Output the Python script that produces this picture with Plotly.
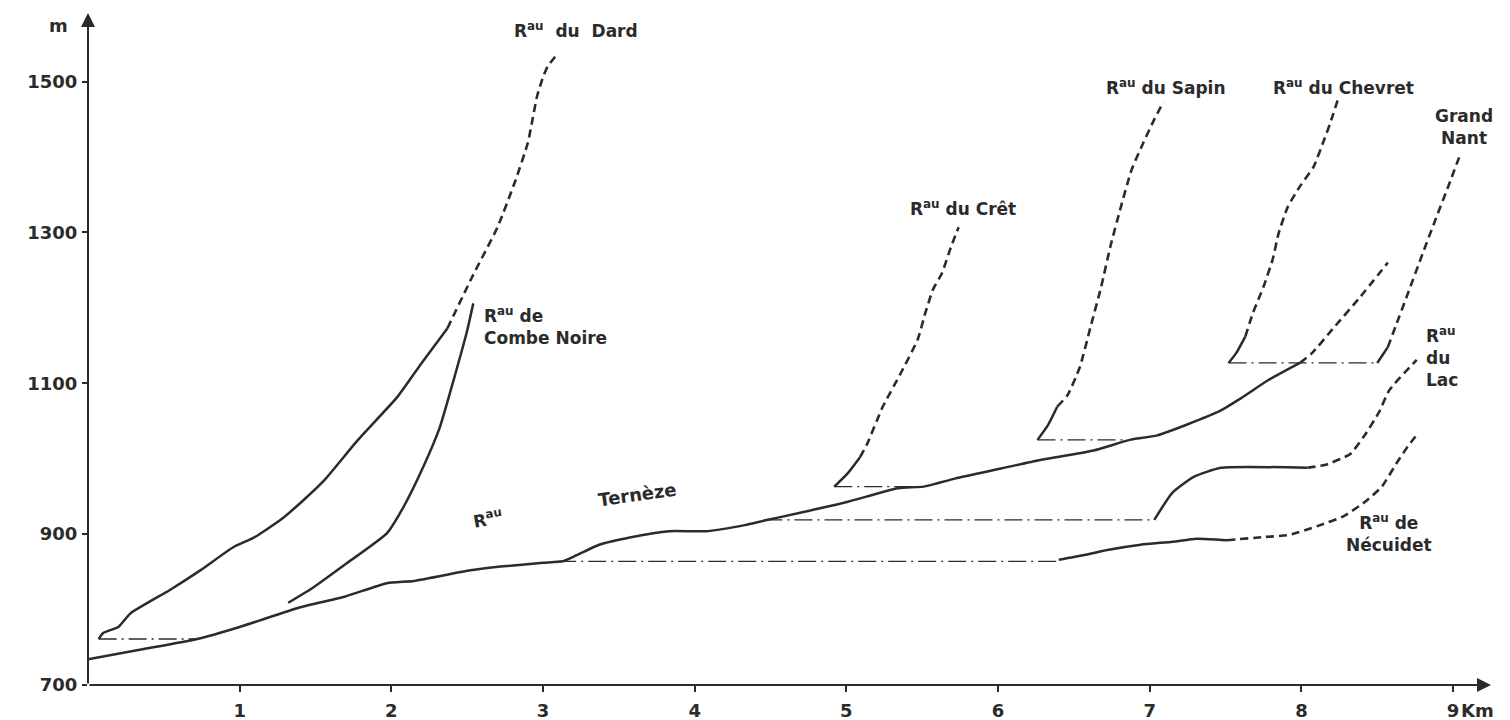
import plotly.graph_objects as go

# --- profil en long (distance en km, altitude en m) ---
terneze_km = [0, 0.35, 0.72, 1.0, 1.40, 1.69, 1.97, 2.15, 2.52, 2.72, 3.0, 3.13, 3.20, 3.37, 3.58, 3.83, 4.08,
              4.33, 4.46, 4.71, 5.01, 5.34, 5.51, 5.72, 6.02, 6.27, 6.63, 6.87, 7.05, 7.45, 7.60, 7.78, 7.99]
terneze_m = [734, 747, 761, 777, 803, 817, 835, 838, 852, 857, 862, 864, 870, 886, 896, 904, 904,
             912, 918, 929, 943, 961, 963, 974, 987, 998, 1011, 1025, 1031, 1062, 1080, 1104, 1127]
terneze_amont_km = [7.99, 8.07, 8.21, 8.39, 8.57]
terneze_amont_m = [1127, 1140, 1173, 1215, 1260]

dard_km = [0.07, 0.10, 0.20, 0.28, 0.54, 0.74, 0.96, 1.09, 1.27, 1.42, 1.56, 1.78, 2.04, 2.20, 2.37]
dard_m = [761, 769, 777, 795, 826, 852, 883, 895, 919, 945, 972, 1025, 1082, 1127, 1173]
dard_amont_km = [2.37, 2.53, 2.70, 2.82, 2.90, 2.93, 2.96, 3.00, 3.03, 3.08]
dard_amont_m = [1173, 1240, 1307, 1370, 1419, 1449, 1480, 1506, 1520, 1533]

combe_km = [1.32, 1.49, 1.71, 1.97, 2.08, 2.21, 2.32, 2.41, 2.50, 2.54]
combe_m = [809, 830, 862, 901, 936, 989, 1042, 1104, 1170, 1206]

cret_km = [4.92, 5.01, 5.09]
cret_m = [963, 981, 1002]
cret_amont_km = [5.09, 5.14, 5.24, 5.36, 5.47, 5.52, 5.57, 5.63, 5.69, 5.74]
cret_amont_m = [1002, 1021, 1069, 1114, 1158, 1193, 1224, 1246, 1281, 1307]

sapin_km = [6.26, 6.33, 6.39]
sapin_m = [1025, 1045, 1069]
sapin_amont_km = [6.39, 6.46, 6.54, 6.61, 6.68, 6.74, 6.81, 6.88, 6.96, 7.03, 7.09]
sapin_amont_m = [1069, 1085, 1122, 1175, 1228, 1281, 1334, 1383, 1420, 1450, 1473]

chevret_km = [7.52, 7.57, 7.63]
chevret_m = [1127, 1140, 1162]
chevret_amont_km = [7.63, 7.68, 7.75, 7.81, 7.85, 7.91, 7.99, 8.08, 8.15, 8.19, 8.24]
chevret_amont_m = [1162, 1193, 1228, 1264, 1299, 1334, 1361, 1387, 1423, 1445, 1476]

grand_nant_km = [8.50, 8.57]
grand_nant_m = [1127, 1148]
grand_nant_amont_km = [8.57, 8.62, 8.70, 8.79, 8.88, 8.97, 9.05]
grand_nant_amont_m = [1148, 1175, 1218, 1267, 1315, 1362, 1405]

lac_km = [7.03, 7.15, 7.29, 7.47, 8.04]
lac_m = [919, 955, 976, 988, 988]
lac_amont_km = [8.04, 8.16, 8.32, 8.41, 8.51, 8.58, 8.76]
lac_amont_m = [988, 992, 1006, 1029, 1061, 1091, 1131]

necuidet_km = [6.40, 6.56, 6.72, 6.94, 7.15, 7.31, 7.51]
necuidet_m = [866, 872, 879, 886, 890, 894, 892]
necuidet_amont_km = [7.51, 7.74, 7.92, 8.11, 8.28, 8.42, 8.53, 8.63, 8.70, 8.77]
necuidet_amont_m = [892, 896, 899, 911, 924, 943, 963, 995, 1016, 1034]

# lignes de raccordement (altitude, début, fin)
raccord_m = [761, 864, 919, 963, 1025, 1127]
raccord_debut_km = [0.07, 3.10, 4.46, 4.92, 6.26, 7.52]
raccord_fin_km = [0.72, 6.40, 7.03, 5.50, 6.85, 8.50]

y_ticks = [700, 900, 1100, 1300, 1500]
x_ticks = [1, 2, 3, 4, 5, 6, 7, 8, 9]

INK = "#2b2b2b"
FONT = "DejaVu Sans"

fig = go.Figure()


def trait(x, y, style):
    if style == "plein":
        line = dict(color=INK, width=2.5, shape="spline", smoothing=0.5)
    elif style == "tirets":
        line = dict(color=INK, width=2.6, dash="8px,5px", shape="spline", smoothing=0.5)
    else:
        line = dict(color=INK, width=1.3, dash="18px,5px,2px,5px")
    fig.add_trace(go.Scatter(x=x, y=y, mode="lines", line=line, hoverinfo="skip", showlegend=False))


for y, x0, x1 in zip(raccord_m, raccord_debut_km, raccord_fin_km):
    trait([x0, x1], [y, y], "mixte")

trait(terneze_km, terneze_m, "plein")
trait(terneze_amont_km, terneze_amont_m, "tirets")
trait(dard_km, dard_m, "plein")
trait(dard_amont_km, dard_amont_m, "tirets")
trait(combe_km, combe_m, "plein")
trait(cret_km, cret_m, "plein")
trait(cret_amont_km, cret_amont_m, "tirets")
trait(sapin_km, sapin_m, "plein")
trait(sapin_amont_km, sapin_amont_m, "tirets")
trait(chevret_km, chevret_m, "plein")
trait(chevret_amont_km, chevret_amont_m, "tirets")
trait(grand_nant_km, grand_nant_m, "plein")
trait(grand_nant_amont_km, grand_nant_amont_m, "tirets")
trait(lac_km, lac_m, "plein")
trait(lac_amont_km, lac_amont_m, "tirets")
trait(necuidet_km, necuidet_m, "plein")
trait(necuidet_amont_km, necuidet_amont_m, "tirets")

lab = dict(family=FONT, size=17, color=INK, weight="bold")
notes = [
    dict(x=3.22, y=1569, text="R<sup>au</sup>  du  Dard"),
    dict(x=2.60, y=1176, text="R<sup>au</sup> de<br>Combe Noire", xanchor="left", align="left"),
    dict(x=2.64, y=921, text="R<sup>au</sup>", textangle=-10),
    dict(x=3.62, y=952, text="Ternèze", textangle=-8,
         font=dict(family=FONT, size=18, color=INK, weight="bold")),
    dict(x=5.77, y=1333, text="R<sup>au</sup> du Crêt"),
    dict(x=7.11, y=1493, text="R<sup>au</sup> du Sapin"),
    dict(x=8.28, y=1493, text="R<sup>au</sup> du Chevret"),
    dict(x=9.07, y=1440, text="Grand<br>Nant"),
    dict(x=8.81, y=1135, text="R<sup>au</sup><br>du<br>Lac", xanchor="left", align="left"),
    dict(x=8.58, y=902, text="R<sup>au</sup> de<br>Nécuidet"),
    dict(x=0, y=1574, text="m", xshift=-30,
         font=dict(family=FONT, size=18, color=INK, weight="bold")),
    dict(x=9, y=700, text="Km", xshift=24, yshift=-25,
         font=dict(family=FONT, size=18, color=INK, weight="bold")),
]
for n in notes:
    n.setdefault("font", lab)
    fig.add_annotation(showarrow=False, xref="x", yref="y", **n)

# axes avec flèches
fig.add_annotation(x=0, y=1591, ax=0, ay=700, xref="x", yref="y", axref="x", ayref="y",
                   text="", showarrow=True, arrowhead=2, arrowsize=1.4, arrowwidth=2, arrowcolor=INK)
fig.add_annotation(x=9.25, y=700, ax=0, ay=700, xref="x", yref="y", axref="x", ayref="y",
                   text="", showarrow=True, arrowhead=2, arrowsize=1.4, arrowwidth=2, arrowcolor=INK)

tick_font = dict(family=FONT, size=18, color=INK, weight="bold")
fig.update_layout(
    width=1494, height=712,
    margin=dict(l=80, r=11, t=5, b=35),
    paper_bgcolor="white", plot_bgcolor="white",
    xaxis=dict(range=[0, 9.25], tickvals=x_ticks, ticktext=[str(v) for v in x_ticks],
               ticks="outside", ticklen=6, tickwidth=2, tickcolor=INK, tickfont=tick_font,
               ticklabelstandoff=3,
               showgrid=False, zeroline=False, showline=False, automargin=False),
    yaxis=dict(range=[700, 1591], tickvals=y_ticks, ticktext=[str(v) for v in y_ticks],
               ticks="outside", ticklen=5, tickwidth=2, tickcolor=INK, tickfont=tick_font,
               ticklabelstandoff=1,
               showgrid=False, zeroline=False, showline=False, automargin=False),
)

fig.write_html("out.html")
